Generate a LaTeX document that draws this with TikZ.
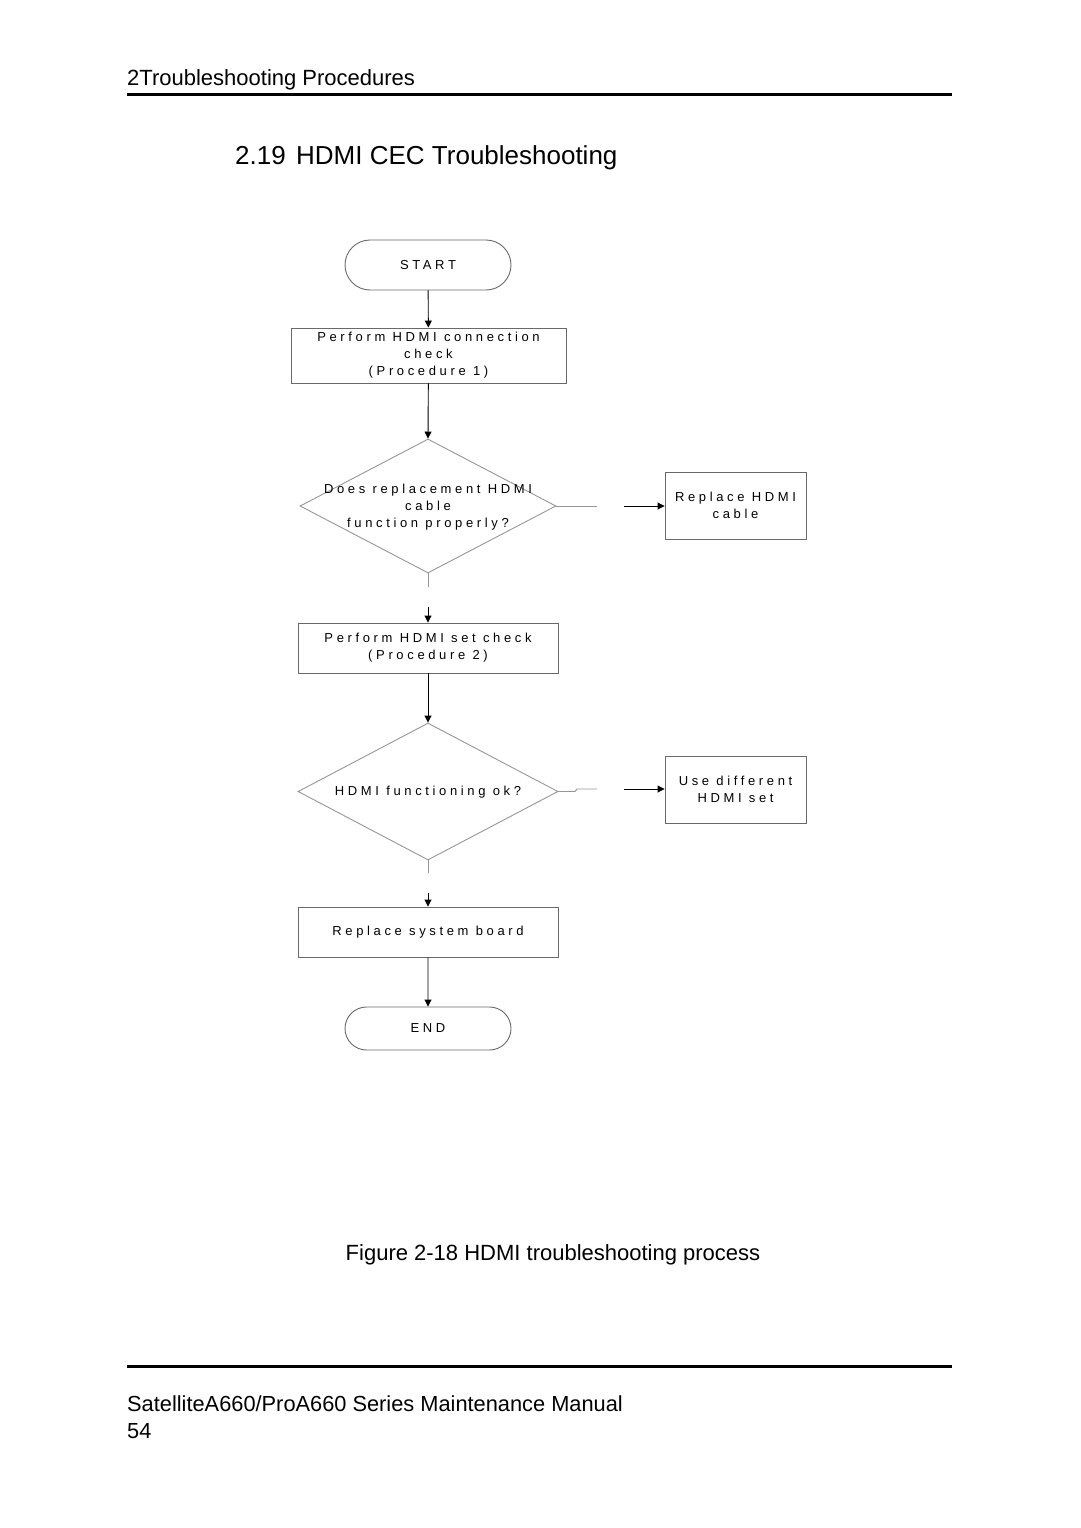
\documentclass[tikz,border=0pt]{standalone}
\usepackage{fontspec}
\setmainfont{Liberation Sans}
\newfontfamily\spacedfont[LetterSpace=28]{Liberation Sans}
\usetikzlibrary{shapes.geometric,shapes.misc,arrows.meta}
\definecolor{boxgray}{RGB}{105,105,105}
\definecolor{stubgray}{RGB}{150,150,150}
\begin{document}
\begin{tikzpicture}[x=1pt,y=-1pt,
  fc/.style={font=\spacedfont\fontsize{13}{17}\selectfont, align=center, text=black},
  procbox/.style={draw=boxgray, line width=0.9pt, rectangle, inner sep=0pt, fc},
  term/.style={draw=boxgray, line width=0.9pt, rounded rectangle, inner sep=0pt, fc},
  dia/.style={draw=stubgray, line width=0.9pt, diamond, inner sep=0pt},
  arr/.style={draw=black, line width=0.9pt, -{Triangle[length=7pt,width=7pt]}},
  stub/.style={draw=stubgray, line width=0.9pt},
  rulebar/.style={line width=3pt, black}
]
\useasboundingbox (0,0) rectangle (1080,1528);

% page header / footer
\node[anchor=base west, font=\fontsize{22}{26}\selectfont, inner sep=0pt] (hdr) at (127,85) {2Troubleshooting Procedures};
\draw[rulebar] (127,94) coordinate (t1) -- (952,94) coordinate (t2);
\node[anchor=base west, font=\fontsize{26}{30}\selectfont, inner sep=0pt] (ttl) at (235,164) {2.19\hspace{0.4em}HDMI CEC Troubleshooting};
\node[anchor=base, font=\fontsize{22}{26}\selectfont, inner sep=0pt] (cap) at (553,1260) {Figure 2-18 HDMI troubleshooting process};
\draw[rulebar] (127,1366) coordinate (b1) -- (952,1366) coordinate (b2);
\node[anchor=base west, font=\fontsize{21.8}{27}\selectfont, inner sep=0pt] (ftr) at (127,1411) {SatelliteA660/ProA660 Series Maintenance Manual};
\node[anchor=base west, font=\fontsize{21.8}{27}\selectfont, inner sep=0pt] (pg) at (127,1438) {54};

% flowchart nodes
\node[term, minimum width=166pt, minimum height=50pt] (start) at (428,265) {START};
\node[procbox, minimum width=275pt, minimum height=55pt] (p1) at (428.5,355.5) {Perform HDMI connection\\check\\(Procedure 1)};
\node[dia, minimum width=256pt, minimum height=134pt,
      label={[fc, yshift=-1pt]center:{Does replacement HDMI\\cable\\function properly?}}] (d1) at (428,506) {};
\node[procbox, minimum width=141pt, minimum height=67pt] (r1) at (735.5,505.5) {Replace HDMI\\cable};
\node[procbox, minimum width=260pt, minimum height=50pt] (p2) at (428,648) {Perform HDMI set check\\(Procedure 2)};
\node[dia, minimum width=260pt, minimum height=137pt,
      label={[fc, yshift=-1pt]center:{HDMI functioning ok?}}] (d2) at (428,791.5) {};
\node[procbox, minimum width=141pt, minimum height=67pt] (u1) at (735.5,789.5) {Use different\\HDMI set};
\node[procbox, minimum width=260pt, minimum height=50pt] (p3) at (428,932) {Replace system board};
\node[term, minimum width=166pt, minimum height=43pt] (end) at (428,1028.5) {END};

% free-end coordinates of the broken connectors
\coordinate (g1a) at (597,506);
\coordinate (g1b) at (624,506);
\coordinate (g2a) at (428,587);
\coordinate (g2b) at (428,607);
\coordinate (g3a) at (597,789);
\coordinate (g3b) at (624,789);
\coordinate (g4a) at (428,873);
\coordinate (g4b) at (428,893);

% connectors
\draw[arr] (start) -- (p1);
\draw[arr] (p1) -- (d1.north);
\draw[stub] (d1.east) -- (g1a);
\draw[arr] (g1b) -- (r1.west |- g1b);
\draw[stub] (d1.south) -- (g2a);
\draw[arr] (g2b) -- (p2.north);
\draw[arr] (p2) -- (d2.north);
\draw[stub] (d2.east) -- (575,791.5) -- (577,789) -- (g3a);
\draw[arr] (g3b) -- (u1.west |- g3b);
\draw[stub] (d2.south) -- (g4a);
\draw[arr] (g4b) -- (p3.north);
\draw[arr] (p3) -- (end);
\end{tikzpicture}
\end{document}
